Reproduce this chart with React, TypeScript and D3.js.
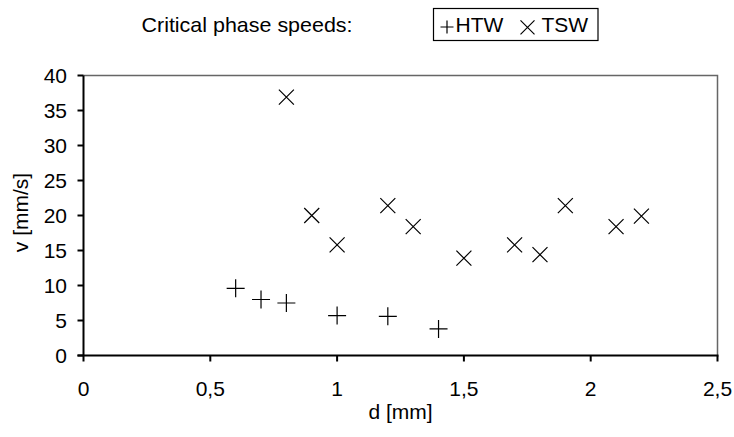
import React from "react";
import * as d3 from "d3";

const htwD = [0.6, 0.7, 0.8, 1.0, 1.2, 1.4];
const htwV = [9.6, 8.0, 7.5, 5.7, 5.6, 3.8];
const tswD = [0.8, 0.9, 1.0, 1.2, 1.3, 1.5, 1.7, 1.8, 1.9, 2.1, 2.2];
const tswV = [36.9, 20.0, 15.8, 21.4, 18.4, 13.9, 15.8, 14.4, 21.4, 18.4, 19.9];
const xTicks = [0, 0.5, 1, 1.5, 2, 2.5];
const yTicks = [0, 5, 10, 15, 20, 25, 30, 35, 40];

const W = 734, H = 437;
const L = 83.5, R = 717.5, T = 75.5, B = 355.5;

export default function App() {
  const x = d3.scaleLinear().domain([0, 2.5]).range([L, R]);
  const y = d3.scaleLinear().domain([0, 40]).range([B, T]);
  const fmt = (v: number) => String(v).replace(".", ",");
  const font = "'Liberation Sans', Arial, sans-serif";
  const fs = 21;
  const plus = (cx: number, cy: number, s: number) => `M${cx - s},${cy}H${cx + s}M${cx},${cy - s}V${cy + s}`;
  const cross = (cx: number, cy: number, s: number) => `M${cx - s},${cy - s}L${cx + s},${cy + s}M${cx - s},${cy + s}L${cx + s},${cy - s}`;
  return (
    <svg width={W} height={H} style={{ position: "absolute", left: 0, top: 0, background: "#fff" }} fontFamily={font}>
      <rect x={0} y={0} width={W} height={H} fill="#fff" />
      <path d={`M${L},${T}H${R}V${B}`} fill="none" stroke="#666" strokeWidth={1.5} />
      <line x1={L} x2={L} y1={T} y2={B} stroke="#000" strokeWidth={2} />
      <line x1={L - 6} x2={R + 1} y1={B} y2={B} stroke="#000" strokeWidth={2} />
      {yTicks.map((t) => (
        <g key={"y" + t}>
          <line x1={L - 6} x2={L} y1={y(t)} y2={y(t)} stroke="#000" strokeWidth={2} />
          <text x={L - 16.5} y={y(t)} dy="0.35em" textAnchor="end" fontSize={fs} fill="#000">{t}</text>
        </g>
      ))}
      {xTicks.map((t) => (
        <g key={"x" + t}>
          <line x1={x(t)} x2={x(t)} y1={B} y2={B + 6} stroke="#000" strokeWidth={2} />
          <text x={x(t)} y={B + 33} dy="0.35em" textAnchor="middle" fontSize={fs} fill="#000">{fmt(t)}</text>
        </g>
      ))}
      <text x={(L + R) / 2} y={412} dy="0.35em" textAnchor="middle" fontSize={fs} fill="#000">d [mm]</text>
      <text transform={`translate(21,${(T + B) / 2 - 3}) rotate(-90)`} dy="0.35em" textAnchor="middle" fontSize={fs} fill="#000">v [mm/s]</text>
      {htwD.map((d, i) => (
        <path key={"h" + i} d={plus(x(d), y(htwV[i]), 9)} stroke="#000" strokeWidth={1.2} fill="none" />
      ))}
      {tswD.map((d, i) => (
        <path key={"t" + i} d={cross(x(d), y(tswV[i]), 7.5)} stroke="#000" strokeWidth={1.2} fill="none" />
      ))}
      <text x={141.5} y={24.5} dy="0.35em" fontSize={fs} fill="#000" textLength={211} lengthAdjust="spacingAndGlyphs">Critical phase speeds:</text>
      <rect x={433.5} y={8.5} width={164.5} height={32} fill="#fff" stroke="#000" strokeWidth={1.2} />
      <path d={plus(447, 27, 6.5)} stroke="#000" strokeWidth={1.2} fill="none" />
      <text x={455.5} y={24.5} dy="0.35em" fontSize={fs} fill="#000">HTW</text>
      <path d={cross(527.5, 27.3, 7)} stroke="#000" strokeWidth={1.2} fill="none" />
      <text x={541.5} y={24.5} dy="0.35em" fontSize={fs} fill="#000">TSW</text>
    </svg>
  );
}
